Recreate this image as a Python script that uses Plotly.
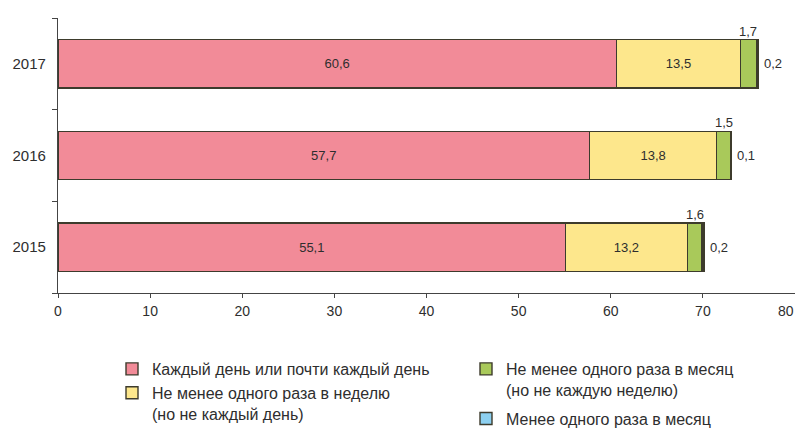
import plotly.graph_objects as go

years = ["2015", "2016", "2017"]
daily = [55.1, 57.7, 60.6]
weekly = [13.2, 13.8, 13.5]
monthly = [1.6, 1.5, 1.7]
rare = [0.2, 0.1, 0.2]

names = [
    "Каждый день или почти каждый день",
    "Не менее одного раза в неделю<br>(но не каждый день)",
    "Не менее одного раза в месяц<br>(но не каждую неделю)",
    "Менее одного раза в месяц",
]
colors = ["#F28B98", "#FDE78C", "#A9C95A", "#8DD0F0"]
x_ticks = [0, 10, 20, 30, 40, 50, 60, 70, 80]
x_tick_text = ["0", "10", "20", "30", "40", "50", "60", "70", "80"]

FONT = "Liberation Sans, Arial, sans-serif"
TXT = "#2e2e2e"
LINE = "#3d3b2c"

def fmt(v):
    return f"{v:.1f}".replace(".", ",")

fig = go.Figure()
series = [daily, weekly, monthly, rare]
legends = ["legend", "legend", "legend2", "legend2"]
for i, vals in enumerate(series):
    show_text = i < 2
    fig.add_trace(go.Bar(
        y=years, x=vals, orientation="h", name=names[i],
        marker=dict(color=colors[i], line=dict(color=LINE, width=1.4)),
        text=[fmt(v) for v in vals] if show_text else None,
        textposition="inside" if show_text else "none",
        insidetextanchor="middle", textangle=0,
        textfont=dict(family=FONT, size=13, color=TXT),
        width=0.53,
        legend=legends[i], legendgroup=f"g{i}",
        hoverinfo="x+y",
    ))

# labels for the small segments
for yi, y in enumerate(years):
    start = daily[yi] + weekly[yi]
    fig.add_annotation(x=start + monthly[yi] / 2, y=yi + 0.265, text=fmt(monthly[yi]),
                       showarrow=False, yanchor="bottom", xanchor="center", yshift=-1,
                       font=dict(family=FONT, size=13, color=TXT))
    total = start + monthly[yi] + rare[yi]
    fig.add_annotation(x=total, y=yi, text=fmt(rare[yi]), showarrow=False,
                       xanchor="left", xshift=4,
                       font=dict(family=FONT, size=13, color=TXT))

# last x tick label drawn right-aligned so it stays inside the window
fig.add_annotation(x=x_ticks[-1], xref="x", y=0, yref="paper", text=x_tick_text[-1],
                   showarrow=False, xanchor="right", yanchor="top", xshift=1, yshift=-8,
                   font=dict(family=FONT, size=14, color=TXT))

leg_y = (285 - 344) / 275
fig.update_layout(
    barmode="stack",
    width=803, height=429,
    margin=dict(l=50, r=16, t=10, b=144, autoexpand=False),
    plot_bgcolor="white", paper_bgcolor="white",
    font=dict(family=FONT, size=14, color=TXT),
    xaxis=dict(range=[0, 80], tickvals=x_ticks, ticktext=x_tick_text[:-1] + [""],
               ticks="outside", ticklen=4,
               tickcolor="#444", showline=True, linecolor="#444", linewidth=1.2,
               showgrid=False, zeroline=False, tickfont=dict(size=14),
               ticklabelstandoff=1, ticklabeloverflow="allow"),
    yaxis=dict(range=[-0.5, 2.5], ticks="outside", ticklen=5, tickson="boundaries",
               tickcolor="#444", showline=True, linecolor="#444", linewidth=1.2,
               showgrid=False, ticklabelstandoff=8, tickfont=dict(size=15)),
    legend=dict(x=(104 - 50) / 737, y=leg_y,
                xanchor="left", yanchor="top", valign="top",
                font=dict(family=FONT, size=16, color=TXT),
                tracegroupgap=0, itemwidth=30, traceorder="normal"),
    legend2=dict(x=(458 - 50) / 737, y=leg_y,
                 xanchor="left", yanchor="top", valign="top",
                 font=dict(family=FONT, size=16, color=TXT),
                 tracegroupgap=5, itemwidth=30, traceorder="grouped"),
    showlegend=True,
)

fig.write_html("out.html")
